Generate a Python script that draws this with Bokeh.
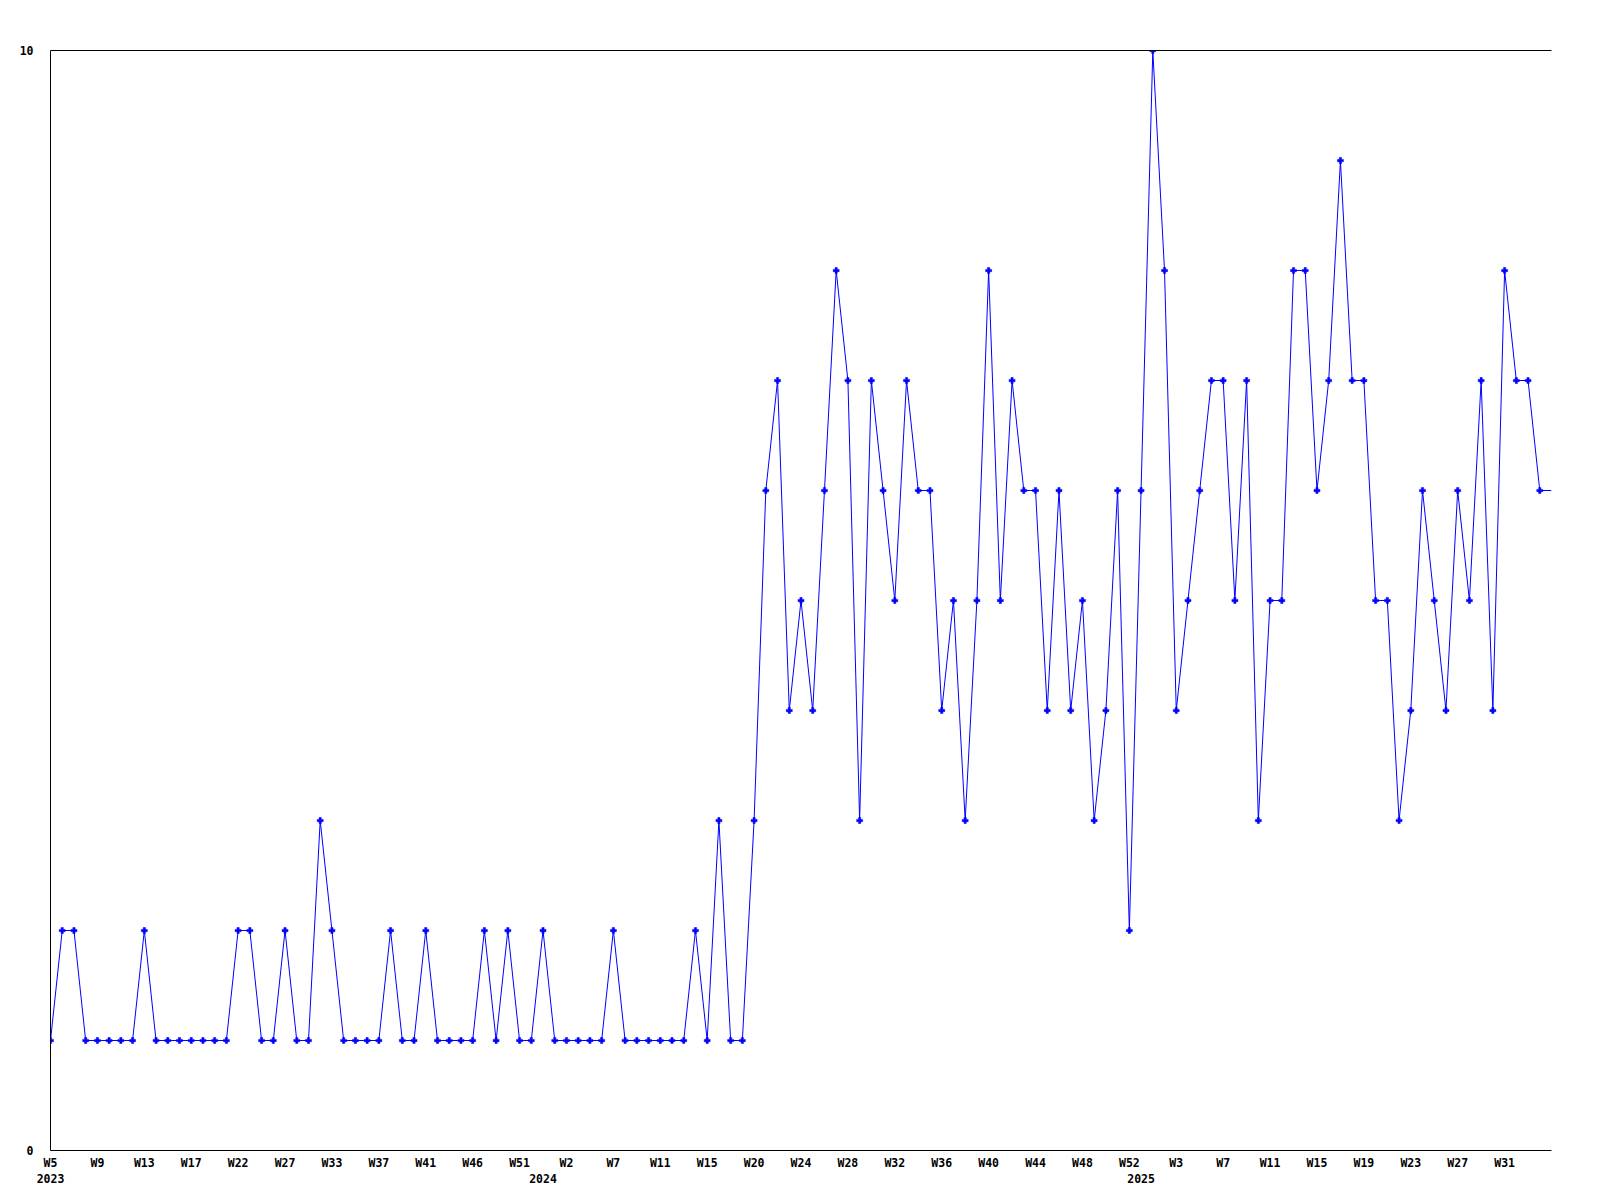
from bokeh.plotting import figure
from bokeh.models import Range1d, FixedTicker, LinearAxis
from bokeh.embed import file_html
from bokeh.resources import INLINE

# weekly counts, one per data point (categorical weeks)
values = [1, 2, 2, 1, 1, 1, 1, 1, 2, 1,
          1, 1, 1, 1, 1, 1, 2, 2, 1, 1,
          2, 1, 1, 3, 2, 1, 1, 1, 1, 2,
          1, 1, 2, 1, 1, 1, 1, 2, 1, 2,
          1, 1, 2, 1, 1, 1, 1, 1, 2, 1,
          1, 1, 1, 1, 1, 2, 1, 3, 1, 1,
          3, 6, 7, 4, 5, 4, 6, 8, 7, 3,
          7, 6, 5, 7, 6, 6, 4, 5, 3, 5,
          8, 5, 7, 6, 6, 4, 6, 4, 5, 3,
          4, 6, 2, 6, 10, 8, 4, 5, 6, 7,
          7, 5, 7, 3, 5, 5, 8, 8, 6, 7,
          9, 7, 7, 5, 5, 3, 4, 6, 5, 4,
          6, 5, 7, 4, 8, 7, 7, 6]

# x tick labels, one every 4th point
week_labels = ["W5", "W9", "W13", "W17", "W22", "W27", "W33", "W37", "W41", "W46",
               "W51", "W2", "W7", "W11", "W15", "W20", "W24", "W28", "W32", "W36",
               "W40", "W44", "W48", "W52", "W3", "W7", "W11", "W15", "W19", "W23",
               "W27", "W31"]
label_step = 4

years = ["2023", "2024", "2025"]
year_start_index = [0, 42, 93]

y_tick_labels = ["0", "10"]
y_tick_values = [0, 10]
y_max = 10

n = len(values)
xs = list(range(n))

FONT = "DejaVu Sans Mono"
BLUE = "#0000ff"

p = figure(x_range=Range1d(0, n), y_range=Range1d(0, y_max),
           frame_width=1501, frame_height=1100,
           min_border_left=50, min_border_right=37,
           min_border_top=50, min_border_bottom=40,
           output_backend="svg", toolbar_location=None)
p.grid.visible = False
p.outline_line_color = None
p.background_fill_color = "white"
p.border_fill_color = "white"


def style_axis(ax):
    ax.major_tick_line_color = None
    ax.minor_tick_line_color = None
    ax.major_tick_out = 0
    ax.major_tick_in = 0
    ax.minor_tick_out = 0
    ax.minor_tick_in = 0
    ax.major_label_text_font = FONT
    ax.major_label_text_font_style = "bold"
    ax.major_label_text_font_size = "11.5px"
    ax.major_label_text_color = "black"
    ax.axis_line_color = "black"
    ax.axis_line_width = 1


# bottom axis: week labels
xa = p.xaxis[0]
style_axis(xa)
wk_ticks = [i * label_step for i in range(len(week_labels))]
xa.ticker = FixedTicker(ticks=wk_ticks)
xa.major_label_overrides = {t: lab for t, lab in zip(wk_ticks, week_labels)}
xa.major_label_standoff = 5

# second bottom axis: year labels
ya2 = LinearAxis(ticker=FixedTicker(ticks=year_start_index))
style_axis(ya2)
ya2.axis_line_color = None
ya2.major_label_overrides = {t: lab for t, lab in zip(year_start_index, years)}
ya2.major_label_standoff = 1
p.add_layout(ya2, "below")

# left axis
la = p.yaxis[0]
style_axis(la)
la.ticker = FixedTicker(ticks=y_tick_values)
la.major_label_overrides = {t: lab for t, lab in zip(y_tick_values, y_tick_labels)}
la.major_label_standoff = 17

# top border line
top = LinearAxis(ticker=FixedTicker(ticks=[]))
style_axis(top)
top.major_label_text_font_size = "0px"
p.add_layout(top, "above")

p.line(xs, values, line_color=BLUE, line_width=1)
p.line([n - 1, n], [values[-1], values[-1]], line_color=BLUE, line_width=1)
p.scatter(xs, values, marker="plus", size=6, fill_color=BLUE, line_color=BLUE, line_width=0.5)

open("out.html", "w").write(file_html(p, INLINE))
